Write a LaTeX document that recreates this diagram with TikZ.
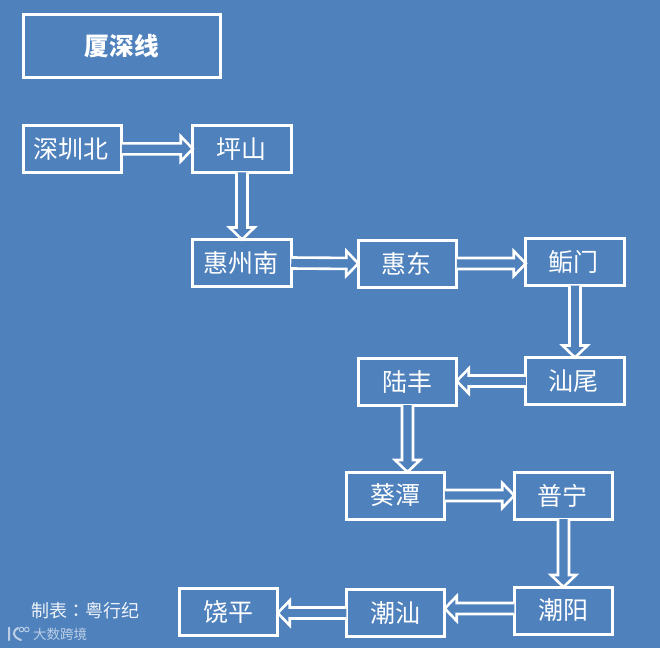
\documentclass[tikz,border=0pt]{standalone}
\usepackage{fontspec}
\setmainfont{Noto Sans CJK SC}
\newfontfamily\tcfont{Noto Sans CJK TC}
\usetikzlibrary{calc}
\definecolor{bgblue}{RGB}{79,129,189}
\tikzset{
  x=1pt,y=-1pt,
  stationbox/.style={draw=white,line width=3pt,text=white,font=\fontsize{25}{25}\selectfont,inner sep=0pt,outer sep=0pt,minimum width=#1,minimum height=47pt},
  stationbox/.default=98.5pt,
  blockarrow/.style={draw=white,line width=2.6pt,line join=miter,fill=bgblue},
  creditnote/.style={text=white!90!bgblue,font=\fontsize{18}{18}\selectfont,inner sep=0pt},
  watermark/.style={text=white!62!bgblue,font=\fontsize{13.5}{14}\selectfont,inner sep=0pt}
}
% #1 start, #2 end: hollow block arrow between two node anchors
\newcommand{\hollowarrow}[2]{%
  \path #1 coordinate (as) #2 coordinate (ae);
  \coordinate (ab) at ($(ae)!12pt!(as)$);
  \draw[blockarrow] ($(as)!5.5pt!90:(ae)$) -- ($(ab)!5.5pt!-90:(as)$) -- ($(ab)!12.5pt!-90:(as)$) -- (ae)
    -- ($(ab)!12.5pt!90:(as)$) -- ($(ab)!5.5pt!90:(as)$) -- ($(as)!5.5pt!-90:(ae)$);
}
\begin{document}
\begin{tikzpicture}
\useasboundingbox[fill=bgblue] (0,0) rectangle (660,648);
\node[stationbox=196.5pt,minimum height=62.4pt,font=\fontsize{24.7}{25}\selectfont\bfseries] (title) at (122,46) {\raisebox{-1pt}{厦深线}};
\node[stationbox] (shenzhenbei) at (72.5,148.8) {\kern-2.5pt 深圳北};
\node[stationbox] (pingshan) at (242,148.8) {\kern-1.5pt 坪山};
\node[stationbox] (huizhounan) at (242,263) {\kern-2.5pt 惠州南};
\node[stationbox] (huidong) at (407.5,263.5) {\kern-1.5pt 惠东};
\node[stationbox] (houmen) at (575,262) {\kern-3pt 鲘门};
\node[stationbox] (shanwei) at (575,381) {\kern-3pt 汕尾};
\node[stationbox] (lufeng) at (407.5,381.5) {陆丰};
\node[stationbox] (kuitan) at (395.5,495.5) {葵潭};
\node[stationbox] (puning) at (563.5,495.5) {\kern-3pt 普宁};
\node[stationbox] (chaoyang) at (563.5,610.5) {潮阳};
\node[stationbox] (chaoshan) at (395.5,613) {潮汕};
\node[stationbox] (raoping) at (228.5,612) {饶平};
\hollowarrow{(shenzhenbei.east)}{(pingshan.west)}
\hollowarrow{(pingshan.south)}{(huizhounan.north)}
\hollowarrow{(huizhounan.east)}{(huidong.west)}
\hollowarrow{(huidong.east)}{(houmen.west |- huidong.east)}
\hollowarrow{(houmen.south)}{(shanwei.north)}
\hollowarrow{(shanwei.west)}{(lufeng.east |- shanwei.west)}
\hollowarrow{(lufeng.south)}{(lufeng.south |- kuitan.north)}
\hollowarrow{(kuitan.east)}{(puning.west)}
\hollowarrow{(puning.south)}{(chaoyang.north)}
\hollowarrow{($(chaoyang.west)+(0,-2)$)}{(chaoshan.east |- {$(chaoyang.west)+(0,-2)$})}
\hollowarrow{(chaoshan.west)}{(raoping.east |- chaoshan.west)}
\node[creditnote] (credit) at (85.5,611) {制表{\tcfont ：}粤行纪};
\node[watermark] (mark) at (60,634.5) {大数跨境};
% logo of the watermark
\draw[white!62!bgblue,line width=2pt,line cap=round] (9,627.5) -- (9,640) (18,628) .. controls (12,631) and (12,637) .. (21,640);
\draw[white!62!bgblue,line width=.9pt] (21.5,629.5) circle (2.3) (26.8,629.5) circle (2.3);
\end{tikzpicture}
\end{document}
